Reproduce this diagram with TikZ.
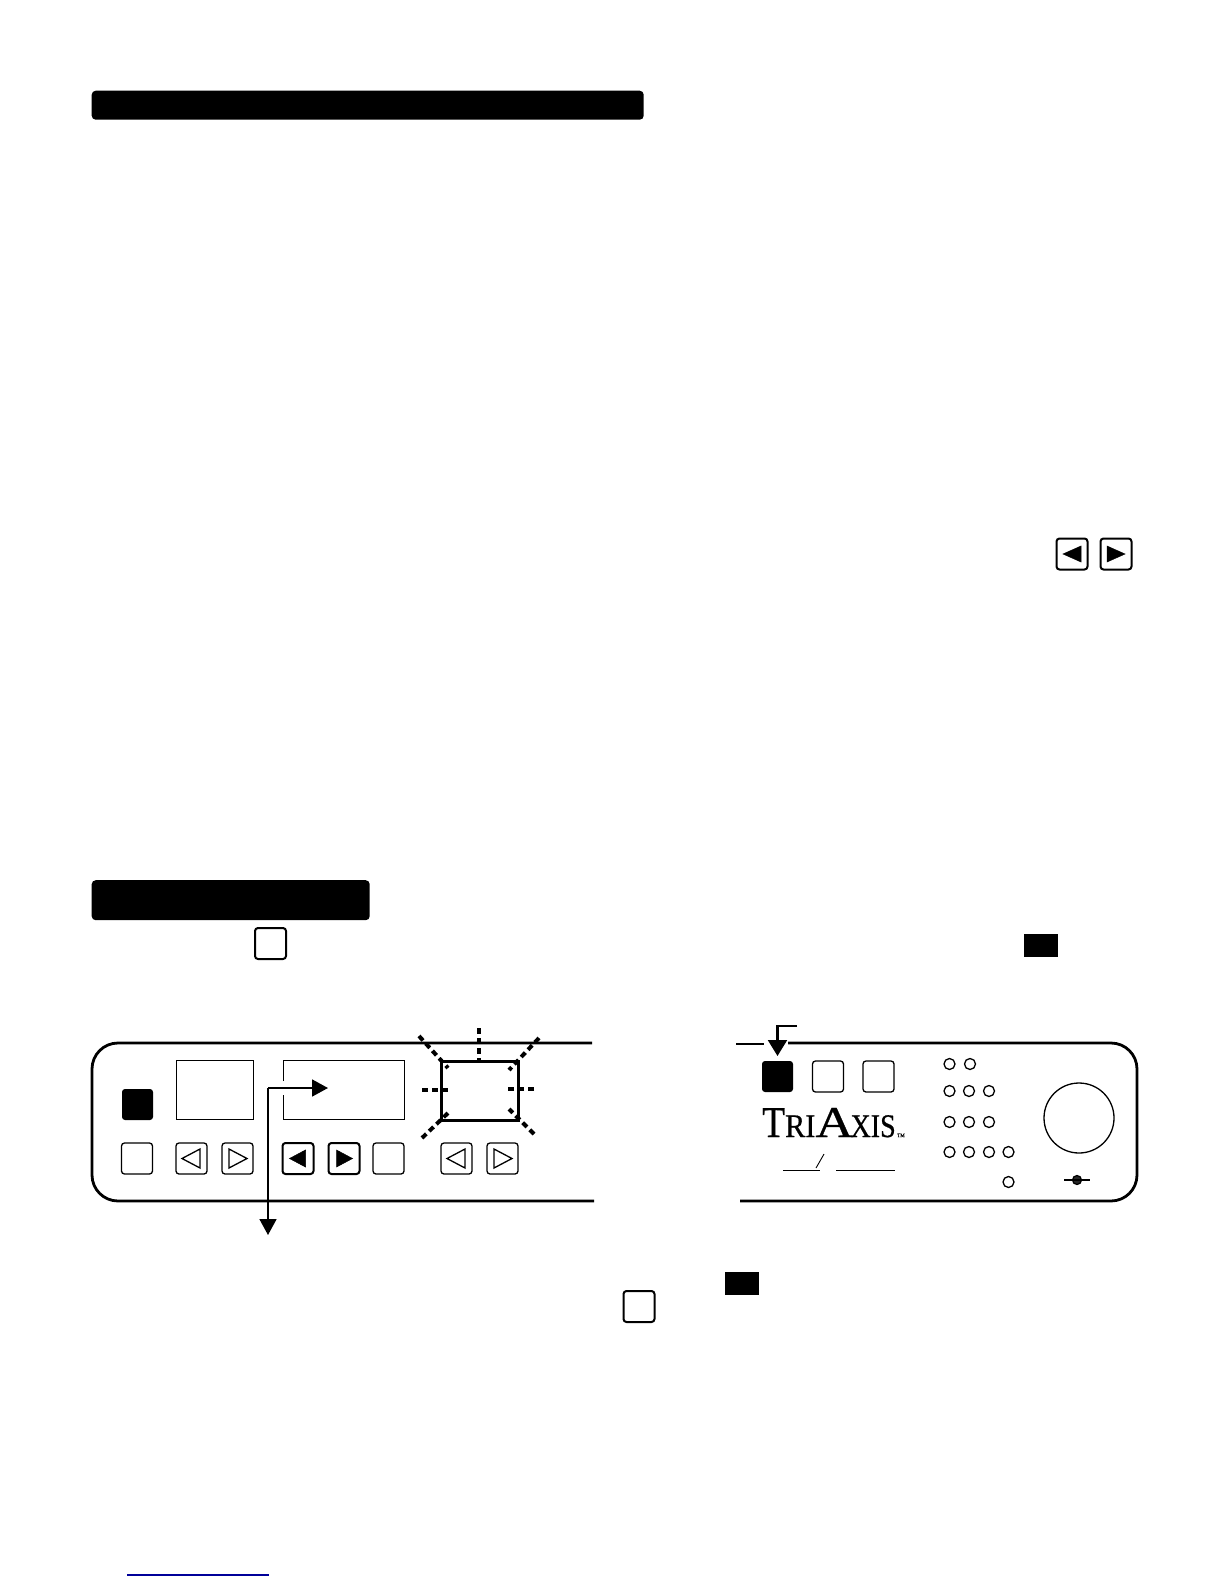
\documentclass[tikz,border=0pt]{standalone}
\usepackage{xcolor}
\usepackage{fontspec}
\usetikzlibrary{arrows.meta, positioning, calc}
\newfontfamily\logofont[FakeBold=0.6]{Liberation Serif}
\definecolor{linkblue}{HTML}{000099}

\begin{document}
\begin{tikzpicture}[
    x=1pt, y=-1pt,
    banner/.style={rectangle, fill=black, rounded corners=4pt, inner sep=0pt, anchor=north west},
    panel/.style={line width=2.8pt, rounded corners=26pt},
    switch/.style={rectangle, draw=black, line width=1.3pt, rounded corners=3pt, minimum size=31pt, inner sep=0pt},
    heavyswitch/.style={switch, line width=2pt},
    blackswitch/.style={switch, draw=none, fill=black},
    legend/.style={rectangle, fill=black, minimum width=34pt, minimum height=23pt, inner sep=0pt},
    display/.style={rectangle, draw=black, line width=1pt, inner sep=0pt, anchor=north west},
    led/.style={circle, draw=black, line width=1.3pt, minimum size=11pt, inner sep=0pt},
    flare/.style={line width=4pt, dash pattern=on 6pt off 4pt},
    flow/.style={line width=1.7pt, -{Triangle[length=16pt,width=17pt]}},
    hollowtip/.style={line width=1.3pt, line join=miter},
    solidtip/.style={fill=black, draw=black, line width=0.5pt},
]

\useasboundingbox (0,0) rectangle (1224,1584);

\node[banner, minimum width=552pt, minimum height=29pt] (tophead) at (91.5,90.5) {};
\node[banner, minimum width=278pt, minimum height=40pt] (lowhead) at (91.5,880) {};

\node[heavyswitch] (pageleft) at (1072,554) {};
\node[heavyswitch] (pageright) at (1116,554) {};
\fill[solidtip] ($(pageleft)+(-9,0)$) -- ++(18,-8) -- ++(0,16) -- cycle;
\fill[solidtip] ($(pageright)+(9,0)$) -- ++(-18,-8) -- ++(0,16) -- cycle;

\node[heavyswitch] (storeinline) at (270.5,943.5) {};
\node[legend] (powerinline) at (1041,945) {};
\node[heavyswitch] (storebelow) at (639,1306.5) {};
\node[legend] (powerbelow) at (742,1283) {};

% front panel, left half
\draw[panel] (592,1043) -- (92,1043) -- (92,1201) -- (594,1201);

\node[blackswitch] (recall) at (137.5,1104.5) {};
\node[display, minimum width=77pt, minimum height=59pt] (bankshow) at (176,1060) {};
\draw[line width=1pt] (283,1081) -- (283,1060) -- (404,1060) -- (404,1119) -- (283,1119) -- (283,1095);
\node[display, line width=3pt, minimum width=76.5pt, minimum height=59pt] (lamp) at (440,1060) {};

\foreach \fx/\fy/\tx/\ty in {478.5/1028/478.5/1063, 422/1090/448/1090, 534/1089/508/1089,
    419/1036/448/1068, 539/1038/509/1070, 422/1138/448/1113, 534/1134/509/1109}
    \draw[flare] (\fx,\fy) -- (\tx,\ty);

\node[switch] (modebtn) at (137,1158.5) {};
\node[switch] (bankdn) at (191.5,1158.5) {};
\node[switch] (bankup) at (237.5,1158.5) {};
\node[heavyswitch] (editdn) at (298,1158.5) {};
\node[heavyswitch] (editup) at (344,1158.5) {};
\node[switch] (storebtn) at (388.5,1158.5) {};
\node[switch] (valuedn) at (456.5,1158.5) {};
\node[switch] (valueup) at (502.5,1158.5) {};

\draw[hollowtip] ($(bankdn)+(-9.5,0)$) -- ++(18,-9.5) -- ++(0,19) -- cycle;
\draw[hollowtip] ($(bankup)+(9.5,0)$) -- ++(-18,-9.5) -- ++(0,19) -- cycle;
\draw[hollowtip] ($(valuedn)+(-9.5,0)$) -- ++(18,-9.5) -- ++(0,19) -- cycle;
\draw[hollowtip] ($(valueup)+(9.5,0)$) -- ++(-18,-9.5) -- ++(0,19) -- cycle;
\fill[solidtip] ($(editdn)+(-8.5,0)$) -- ++(16,-8.5) -- ++(0,17) -- cycle;
\fill[solidtip] ($(editup)+(8.5,0)$) -- ++(-16,-8.5) -- ++(0,17) -- cycle;

\coordinate (branch) at (268,1088);
\coordinate (readtip) at (328,1088);
\coordinate (downtip) at (268,1235);
\draw[flow] (branch) -- (readtip);
\draw[flow] (branch) -- (downtip);

% front panel, right half
\draw[panel] (788,1043) -- (1137,1043) -- (1137,1201) -- (740,1201);
\coordinate (stubleft) at (736,1044);
\coordinate (stubright) at (764,1044);
\draw[line width=2.4pt] (stubleft) -- (stubright);

\node[blackswitch] (powerbtn) at (777.5,1076.5) {};
\node[switch] (fxbtn) at (828,1076.5) {};
\node[switch] (ampbtn) at (878.5,1076.5) {};

\coordinate (pressfrom) at (797,1026);
\coordinate (presstip) at (777.5,1056);
\draw[line width=2.2pt, -{Triangle[length=16pt,width=19pt]}] (pressfrom) -| (presstip);

\node[anchor=base west, inner sep=0pt] (logo) at (762,1137)
    {\logofont\fontsize{44}{44}\selectfont\scalebox{0.85}[1]{T}\fontsize{33}{33}\selectfont\scalebox{0.92}[1]{RI}\fontsize{44}{44}\selectfont\scalebox{1.2}[1]{A}\kern-3pt\fontsize{33}{33}\selectfont\scalebox{0.85}[1]{XIS}};
\node[anchor=base west, inner sep=0pt, font=\logofont\fontsize{5}{5}\selectfont] (trademark) at (897,1137) {TM};

\draw[line width=0.9pt] (783,1170) -- (820,1170);
\draw[line width=0.9pt] (836,1170) -- (895,1170);
\draw[line width=0.9pt] (816,1168) -- (824,1154);

\foreach \lx/\ly in {949.5/1064, 970/1064, 949.5/1091, 969/1091, 989/1091, 949.5/1122, 969/1122, 989/1122,
    949.5/1152, 969/1152, 989/1152, 1008.5/1152, 1008.5/1182}
    \node[led] at (\lx,\ly) {};

\node[circle, draw=black, line width=1.3pt, minimum size=70pt, inner sep=0pt] (knob) at (1079,1118) {};
\node[circle, draw=black, fill=black!85, line width=1.2pt, minimum size=9pt, inner sep=0pt] (jack) at (1077,1180) {};
\coordinate (jackleft) at (1064,1180);
\coordinate (jackright) at (1090,1180);
\draw[line width=1.6pt] (jackleft) -- (jackright);

\coordinate (ruleleft) at (127,1575);
\coordinate (ruleright) at (269,1575);
\draw[linkblue, line width=1.2pt] (ruleleft) -- (ruleright);

\end{tikzpicture}
\end{document}
